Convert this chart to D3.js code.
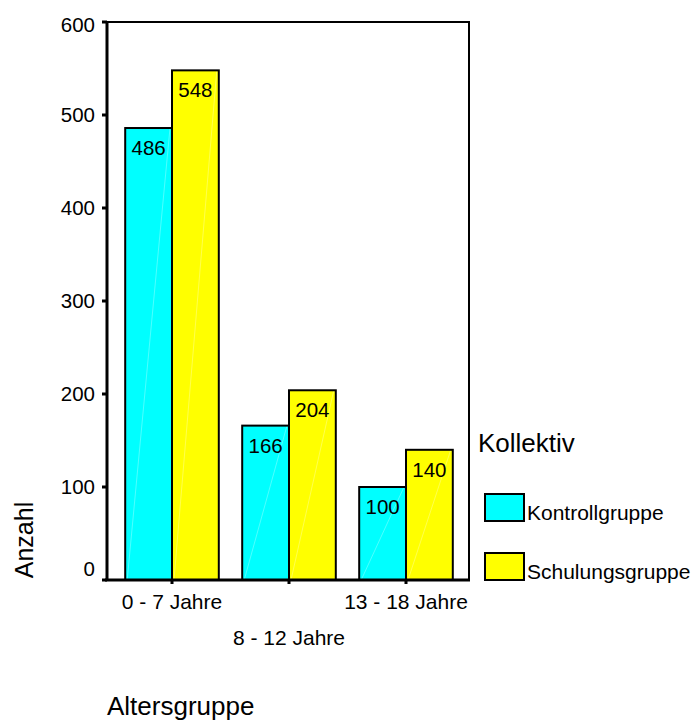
<!DOCTYPE html>
<html><head><meta charset="utf-8">
<script src="https://cdn.jsdelivr.net/npm/d3@7"></script>
<style>
body{margin:0;background:#fff;}
text{font-family:"Liberation Sans",Arial,sans-serif;fill:#000;}
</style></head>
<body>
<svg id="chart" width="698" height="720"></svg>
<script>
const categories = ["0 - 7 Jahre", "8 - 12 Jahre", "13 - 18 Jahre"];
const seriesNames = ["Kontrollgruppe", "Schulungsgruppe"];
const kontroll = [486, 166, 100];
const schulung = [548, 204, 140];
const yTicks = [0, 100, 200, 300, 400, 500, 600];
const colors = ["#00FFFF", "#FFFF00"];
const legendTitle = "Kollektiv";
const xTitle = "Altersgruppe";
const yTitle = "Anzahl";

const svg = d3.select("#chart");
const plot = {left: 107, right: 469, top: 22, bottom: 580};

const y = d3.scaleLinear().domain([0, 600]).range([plot.bottom, plot.top]);
const x = d3.scaleBand().domain(categories).range([113.5, 464.5]).paddingInner(0.2).paddingOuter(0.1);
const xs = d3.scaleBand().domain(seriesNames).range([0, x.bandwidth()]);

const data = categories.map((c, i) => ({cat: c, vals: [kontroll[i], schulung[i]]}));

// frame
svg.append("rect").attr("x", plot.left).attr("y", plot.top)
  .attr("width", plot.right - plot.left).attr("height", plot.bottom - plot.top)
  .attr("fill", "none").attr("stroke", "#000").attr("stroke-width", 2);

// bars
const g = svg.append("g");
data.forEach(d => {
  d.vals.forEach((v, j) => {
    const bx = x(d.cat) + xs(seriesNames[j]);
    const bw = xs.bandwidth();
    g.append("rect").attr("x", bx).attr("y", y(v))
      .attr("width", bw).attr("height", y(0) - y(v))
      .attr("fill", colors[j]);
    g.append("line").attr("x1", bx + 2).attr("y1", y(0)).attr("x2", bx + bw - 2).attr("y2", y(v))
      .attr("stroke", "#fff").attr("stroke-opacity", 0.3).attr("stroke-width", 1);
    g.append("rect").attr("x", bx).attr("y", y(v))
      .attr("width", bw).attr("height", y(0) - y(v))
      .attr("fill", "none").attr("stroke", "#000").attr("stroke-width", 2);
    g.append("text").attr("x", bx + bw / 2).attr("y", y(v) + 27)
      .attr("text-anchor", "middle").attr("font-size", 20.5).text(v);
  });
});

// axes lines
svg.append("line").attr("x1", plot.left).attr("x2", plot.left).attr("y1", plot.top).attr("y2", plot.bottom)
  .attr("stroke", "#000").attr("stroke-width", 3);
svg.append("line").attr("x1", plot.left - 2).attr("x2", plot.right + 1).attr("y1", plot.bottom).attr("y2", plot.bottom)
  .attr("stroke", "#000").attr("stroke-width", 3);

// y axis ticks
const yAxis = svg.append("g");
yTicks.forEach(t => {
  yAxis.append("rect").attr("x", plot.left - 5).attr("y", y(t) - 1.5).attr("width", 5).attr("height", 3).attr("fill", "#000");
  let dy = 7;
  if (t === 0) dy = -4;
  if (t === yTicks[yTicks.length - 1]) dy = 10;
  yAxis.append("text").attr("x", 95).attr("y", y(t) + dy).attr("text-anchor", "end")
    .attr("font-size", 20.5).text(t);
});

// x axis ticks & labels
categories.forEach((c, i) => {
  const cx = x(c) + x.bandwidth() / 2;
  svg.append("rect").attr("x", cx - 1.5).attr("y", plot.bottom).attr("width", 3).attr("height", 4).attr("fill", "#000");
  svg.append("text").attr("x", cx).attr("y", i % 2 === 0 ? 609 : 645)
    .attr("text-anchor", "middle").attr("font-size", 21).text(c);
});

// axis titles
svg.append("text").attr("x", 107).attr("y", 715).attr("font-size", 26).text(xTitle);
svg.append("text").attr("transform", "translate(33,540) rotate(-90)").attr("text-anchor", "middle")
  .attr("font-size", 25).text(yTitle);

// legend
svg.append("text").attr("x", 478).attr("y", 452).attr("font-size", 26).text(legendTitle);
const legY = [494, 553];
seriesNames.forEach((s, j) => {
  svg.append("rect").attr("x", 485).attr("y", legY[j]).attr("width", 39).attr("height", 27)
    .attr("fill", colors[j]).attr("stroke", "#000").attr("stroke-width", 2);
  svg.append("text").attr("x", 527).attr("y", legY[j] + 26).attr("font-size", 21).text(s);
});
</script>
</body></html>
